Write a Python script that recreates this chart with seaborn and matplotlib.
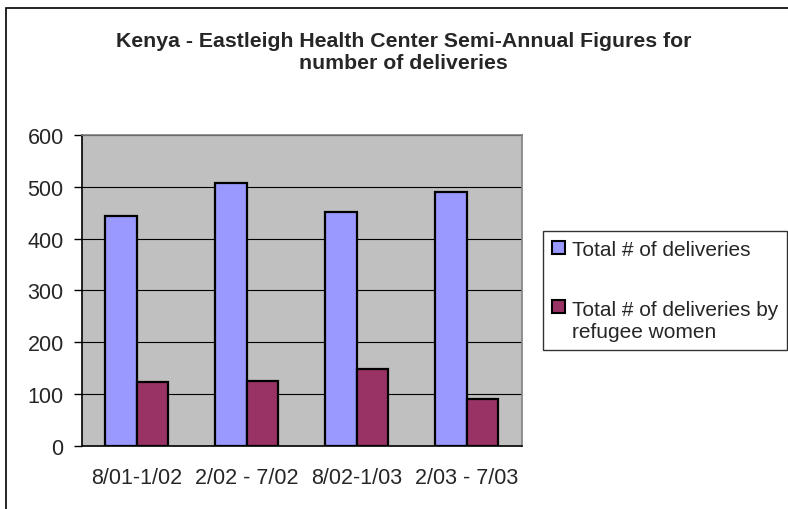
import pandas as pd
import matplotlib.pyplot as plt
import seaborn as sns
from matplotlib.patches import Patch, Rectangle
from matplotlib.legend_handler import HandlerPatch

# Data
periods = ["8/01-1/02", "2/02 - 7/02", "8/02-1/03", "2/03 - 7/03"]
total_deliveries = [444, 507, 452, 489]
refugee_deliveries = [123, 125, 149, 91]
series_names = ["Total # of deliveries", "Total # of deliveries by\nrefugee women"]

df = pd.DataFrame({
    "period": periods * 2,
    "count": total_deliveries + refugee_deliveries,
    "series": [series_names[0]] * 4 + [series_names[1]] * 4,
})

blue = "#9999FF"
maroon = "#993366"

sns.set_style("white")
plt.rcParams["font.family"] = ["Liberation Sans", "DejaVu Sans"]

fig = plt.figure(figsize=(7.88, 5.1), dpi=100)
ax = fig.add_axes([0.1037, 0.123, 0.5583, 0.611])
ax.set_facecolor("#C0C0C0")

sns.barplot(data=df, x="period", y="count", hue="series", palette=[blue, maroon],
            saturation=1, edgecolor="black", linewidth=1.6, width=0.57, gap=0,
            legend=False, ax=ax)

ax.set_ylim(0, 600)
ax.set_xlim(-0.5, 3.5)
ax.set_yticks(range(0, 601, 100))
ax.set_axisbelow(True)
ax.yaxis.grid(True, color="black", linewidth=0.8)
ax.set_xlabel("")
ax.set_ylabel("")

# tick marks between categories, like the spreadsheet chart
ax.set_xticks([-0.5, 0.5, 1.5, 2.5, 3.5], minor=True)
ax.tick_params(axis="x", which="major", length=0, pad=15, labelsize=15.5)
ax.tick_params(axis="x", which="minor", length=6, width=1, color="black", direction="out")
ax.tick_params(axis="y", length=6, width=1, color="black", direction="out", pad=7,
               labelsize=15.5, left=True)

for side in ["top", "right"]:
    ax.spines[side].set_color("#808080")
    ax.spines[side].set_linewidth(1.2)
for side in ["left", "bottom"]:
    ax.spines[side].set_color("black")
    ax.spines[side].set_linewidth(1.2)

fig.text(0.512, 0.937, "Kenya - Eastleigh Health Center Semi-Annual Figures for\nnumber of deliveries",
         ha="center", va="top", fontsize=15.3, fontweight="bold", linespacing=1.2)


# legend swatch sits on the first line of a two-line label
def top_aligned_patch(legend, orig_handle, xdescent, ydescent, width, height, fontsize):
    shift = 0
    if "\n" in orig_handle.get_label():
        shift = 0.65 * fontsize
    return Rectangle((-xdescent, -ydescent + shift), width, height)


handles = [Patch(facecolor=blue, edgecolor="black", linewidth=1.5, label=series_names[0]),
           Patch(facecolor=maroon, edgecolor="black", linewidth=1.5, label=series_names[1])]
leg = fig.legend(handles, series_names, loc="upper left", bbox_to_anchor=(0.689, 0.546),
                 frameon=True, fancybox=False, fontsize=15, handlelength=0.6,
                 handleheight=0.6, handletextpad=0.33, labelspacing=1.95, borderpad=0.45,
                 borderaxespad=0,
                 handler_map={Patch: HandlerPatch(patch_func=top_aligned_patch)})
leg.get_frame().set_edgecolor("black")
leg.get_frame().set_linewidth(1.0)
for t in leg.get_texts():
    t.set_linespacing(1.2)

# outer chart border (right and bottom fall outside the image)
fig.patches.append(Rectangle((6 / 788, -0.1), 1.2, 1.1 - 9 / 510,
                             transform=fig.transFigure, fill=False,
                             edgecolor="black", linewidth=1.2))

fig.savefig("out.png", dpi=100)
